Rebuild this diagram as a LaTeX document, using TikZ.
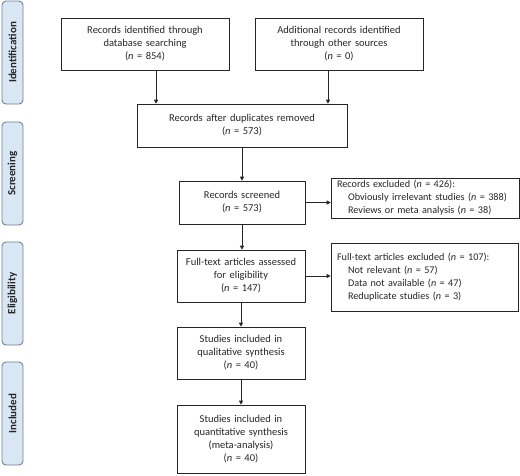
\documentclass[tikz,border=0pt]{standalone}
\usepackage{fontspec}
\setmainfont{Carlito}
\usetikzlibrary{arrows.meta}

\definecolor{sidefill}{HTML}{D9E6F4}
\definecolor{sideline}{HTML}{6E8096}
\definecolor{inkgray}{HTML}{262626}

\tikzset{
  box/.style={draw=inkgray, line width=0.6pt, align=center, inner sep=2pt,
    text=inkgray, font=\fontsize{10.5}{13}\selectfont},
  exclbox/.style={box, align=left, inner xsep=6pt, font=\fontsize{10.2}{13}\selectfont},
  sidebox/.style={draw=sideline, fill=sidefill, rounded corners=4pt, line width=0.9pt,
    rotate=90, minimum width=103pt, minimum height=21pt, inner sep=0pt,
    text=inkgray, font=\bfseries\fontsize{11}{12}\selectfont},
  arrow/.style={draw=inkgray, line width=0.9pt, -{Triangle[length=4pt,width=4pt]}}
}
\newcommand{\nn}{\textit{n}}

\begin{document}
\begin{tikzpicture}[x=1pt, y=-1pt]

    \useasboundingbox (0,0) rectangle (520,475);

    \node[sidebox] (ident) at (12.5,52.5) {Identification};
    \node[sidebox] (screen) at (12.5,173.5) {Screening};
    \node[sidebox] (elig) at (12.5,293.5) {Eligibility};
    \node[sidebox] (incl) at (12.5,413.5) {Included};

    \node[box, text width=164pt, minimum height=52pt] (dbrec) at (145,44)
      {Records identified through\\database searching\\(\nn{} = 854)};
    \node[box, text width=164pt, minimum height=52pt] (otherrec) at (339,44)
      {Additional records identified\\through other sources\\(\nn{} = 0)};

    \node[box, text width=206pt, minimum height=43pt] (dedup) at (242,125.5)
      {Records after duplicates removed\\(\nn{} = 573)};

    \node[box, text width=122pt, minimum height=43pt] (screened) at (242,202.5)
      {Records screened\\(\nn{} = 573)};
    \node[exclbox, text width=176pt, minimum height=40pt] (screenex) at (425,198)
      {Records excluded (\nn{} = 426):\\
       \hspace*{11pt}Obviously irrelevant studies (\nn{} = 388)\\
       \hspace*{11pt}Reviews or meta analysis (\nn{} = 38)};

    \node[box, text width=124pt, minimum height=52pt] (fulltext) at (241,276)
      {Full-text articles assessed\\for eligibility\\(\nn{} = 147)};
    \node[exclbox, text width=175pt, minimum height=68pt] (fullex) at (424.5,277)
      {Full-text articles excluded (\nn{} = 107):\\
       \hspace*{11pt}Not relevant (\nn{} = 57)\\
       \hspace*{11pt}Data not available (\nn{} = 47)\\
       \hspace*{11pt}Reduplicate studies (\nn{} = 3)};

    \node[box, text width=124pt, minimum height=52pt] (qual) at (241,353)
      {Studies included in\\qualitative synthesis\\(\nn{} = 40)};
    \node[box, text width=124pt, minimum height=68pt] (quant) at (241,439)
      {Studies included in\\quantitative synthesis\\(meta-analysis)\\(\nn{} = 40)};

    \draw[arrow] ([xshift=11pt]dbrec.south) -- ([xshift=11pt]dbrec.south |- dedup.north);
    \draw[arrow] ([xshift=-11pt]otherrec.south) -- ([xshift=-11pt]otherrec.south |- dedup.north);
    \draw[arrow] (dedup.south) -- (screened.north);
    \draw[arrow] (screened.east) -- (screened.east -| screenex.west);
    \draw[arrow] (screened.south) -- (screened.south |- fulltext.north);
    \draw[arrow] (fulltext.east) -- (fulltext.east -| fullex.west);
    \draw[arrow] (fulltext.south) -- (qual.north);
    \draw[arrow] (qual.south) -- (quant.north);

\end{tikzpicture}
\end{document}
